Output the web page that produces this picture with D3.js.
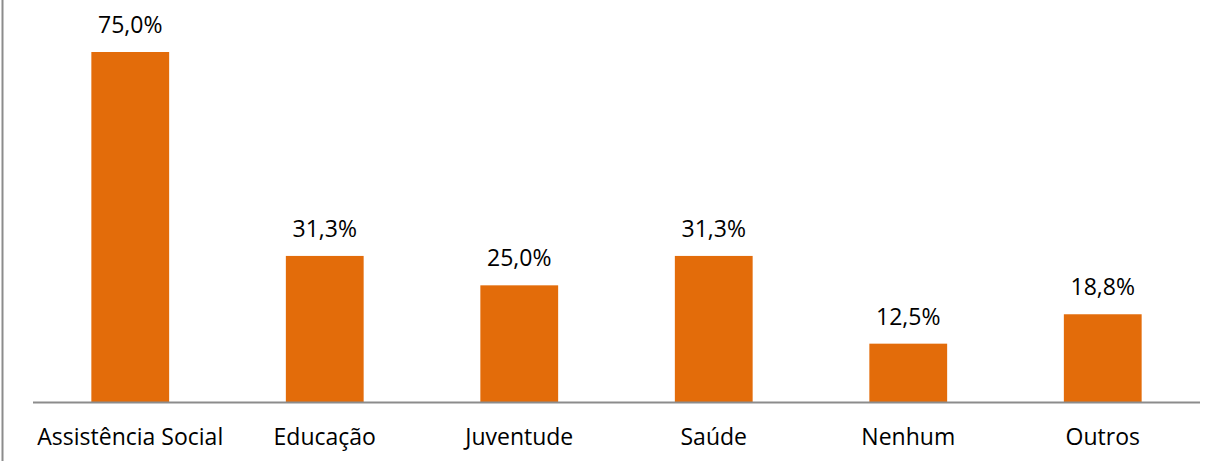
<!DOCTYPE html>
<html>
<head>
<meta charset="utf-8">
<script src="https://cdn.jsdelivr.net/npm/d3@7"></script>
<style>
  body { margin: 0; background: #fff; }
  svg { display: block; }
</style>
</head>
<body>
<script>
const categories = ["Assistência Social", "Educação", "Juventude", "Saúde", "Nenhum", "Outros"];
const values = [75.0, 31.3, 25.0, 31.3, 12.5, 18.8];

const width = 1219, height = 461;
const margin = { left: 33, right: 19, top: 52, bottom: 59 };
const fontFamily = "'Open Sans', 'Liberation Sans', sans-serif";
const fontSize = 23;

const svg = d3.select("body").append("svg")
  .attr("width", width)
  .attr("height", height)
  .attr("font-family", fontFamily);

// frame line on the left
svg.append("line")
  .attr("x1", 2.5).attr("x2", 2.5)
  .attr("y1", 0).attr("y2", height)
  .attr("stroke", "#8c8c8c")
  .attr("stroke-width", 2);

const x = d3.scaleBand()
  .domain(categories)
  .range([margin.left, width - margin.right])
  .paddingInner(0.6)
  .paddingOuter(0.3);

const y = d3.scaleLinear()
  .domain([0, 75])
  .range([height - margin.bottom, margin.top]);

const bars = svg.append("g")
  .selectAll("g")
  .data(categories.map((c, i) => ({ c, v: values[i] })))
  .join("g");

bars.append("rect")
  .attr("x", d => x(d.c))
  .attr("y", d => y(d.v))
  .attr("width", x.bandwidth())
  .attr("height", d => y(0) - y(d.v))
  .attr("fill", "#e36c0a");

bars.append("text")
  .attr("x", d => x(d.c) + x.bandwidth() / 2)
  .attr("y", d => y(d.v) - 19)
  .attr("text-anchor", "middle")
  .attr("font-size", fontSize)
  .attr("fill", "#000")
  .text(d => d.v.toFixed(1).replace(".", ",") + "%");

// baseline axis
svg.append("line")
  .attr("x1", margin.left).attr("x2", width - margin.right)
  .attr("y1", y(0) + 0.5).attr("y2", y(0) + 0.5)
  .attr("stroke", "#8c8c8c")
  .attr("stroke-width", 2);

svg.append("g")
  .selectAll("text")
  .data(categories)
  .join("text")
  .attr("x", d => x(d) + x.bandwidth() / 2)
  .attr("y", 445)
  .attr("text-anchor", "middle")
  .attr("font-size", fontSize)
  .attr("fill", "#000")
  .text(d => d);
</script>
</body>
</html>
